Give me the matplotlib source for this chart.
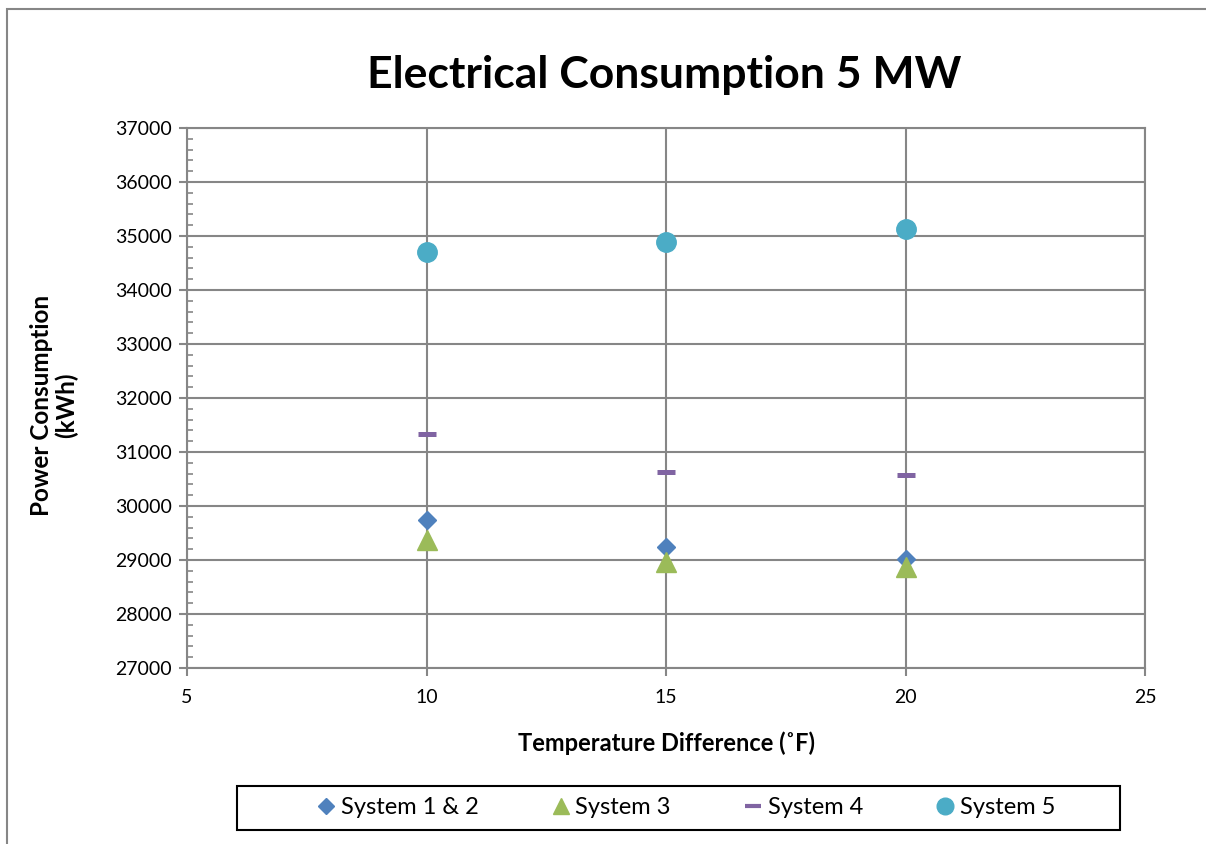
import matplotlib
matplotlib.use("Agg")
import matplotlib.pyplot as plt
from matplotlib.patches import Rectangle
from matplotlib.ticker import MultipleLocator
from matplotlib.lines import Line2D

plt.rcParams['font.family'] = ['Lato', 'DejaVu Sans']

# temperature difference (F) and electrical consumption (kWh) per system
temp_diff = [10, 15, 20]
system_12 = [29735, 29240, 29013]
system_3 = [29365, 28972, 28870]
system_4 = [31341, 30630, 30574]
system_5 = [34698, 34895, 35135]

series_names = ['System 1 & 2', 'System 3', 'System 4', 'System 5']
grid_gray = '#868686'

fig = plt.figure(figsize=(12.06, 8.44), dpi=100)
ax = fig.add_axes([187 / 1206, 1 - 668 / 844, (1145 - 187) / 1206, (668 - 128) / 844])

ax.plot(temp_diff, system_12, linestyle='none', marker='D', ms=9.6,
        color='#4F81BD', mec='#4F81BD', zorder=3)
ax.plot(temp_diff, system_3, linestyle='none', marker='^', ms=14,
        color='#9BBB59', mec='#9BBB59', zorder=3)
ax.plot(temp_diff, system_4, linestyle='none', marker='_', ms=13.5, mew=3.6,
        color='#8064A2', zorder=3)
ax.plot(temp_diff, system_5, linestyle='none', marker='o', ms=14,
        color='#4BACC6', mec='#4BACC6', zorder=3)

ax.set_xlim(5, 25)
ax.set_ylim(27000, 37000)
ax.xaxis.set_major_locator(MultipleLocator(5))
ax.yaxis.set_major_locator(MultipleLocator(1000))
ax.yaxis.set_minor_locator(MultipleLocator(200))

ax.grid(True, which='major', color=grid_gray, linewidth=1.5)
ax.set_axisbelow(True)
for side in ax.spines.values():
    side.set_color(grid_gray)
    side.set_linewidth(1.5)

ax.tick_params(axis='both', which='major', direction='out', length=6,
               width=1.5, color=grid_gray, labelsize=14)
ax.tick_params(axis='x', which='major', pad=9)
ax.tick_params(axis='y', which='major', pad=5)
ax.tick_params(axis='y', which='minor', direction='in', length=4,
               width=1.2, color=grid_gray)
ax.tick_params(axis='x', which='minor', bottom=False)

fig.text(664 / 1206, 1 - 75 / 844, 'Electrical Consumption 5 MW',
         ha='center', va='center', fontsize=32, fontweight='bold')
fig.text(666 / 1206, 1 - 743 / 844, 'Temperature Difference (\u02daF)',
         ha='center', va='center', fontsize=17, fontweight='bold')
fig.text(54 / 1206, 1 - 405 / 844, 'Power Consumption\n(kWh)',
         ha='center', va='center', rotation=90, fontsize=17.5,
         fontweight='bold', linespacing=1.05)

# outer chart frame
fig.add_artist(Rectangle((7 / 1206, -0.1), 1.2, 1.1 - 9 / 844,
                         transform=fig.transFigure, fill=False,
                         edgecolor=grid_gray, linewidth=1.5))

# legend box along the bottom
fig.add_artist(Rectangle((237 / 1206, 1 - 830 / 844), (1120 - 237) / 1206,
                         44 / 844, transform=fig.transFigure, fill=False,
                         edgecolor='black', linewidth=1.5))
handles = [
    Line2D([], [], linestyle='none', marker='D', ms=8, color='#4F81BD'),
    Line2D([], [], linestyle='none', marker='^', ms=12, color='#9BBB59'),
    Line2D([], [], linestyle='none', marker='_', ms=12, mew=3, color='#8064A2'),
    Line2D([], [], linestyle='none', marker='o', ms=12, color='#4BACC6'),
]
fig.legend(handles, series_names, loc='center',
           bbox_to_anchor=(686 / 1206, 1 - 808 / 844), ncol=4, frameon=False,
           fontsize=17, handlelength=0.8, handletextpad=0.2, columnspacing=3.1)

fig.savefig('out.png', dpi=100)
